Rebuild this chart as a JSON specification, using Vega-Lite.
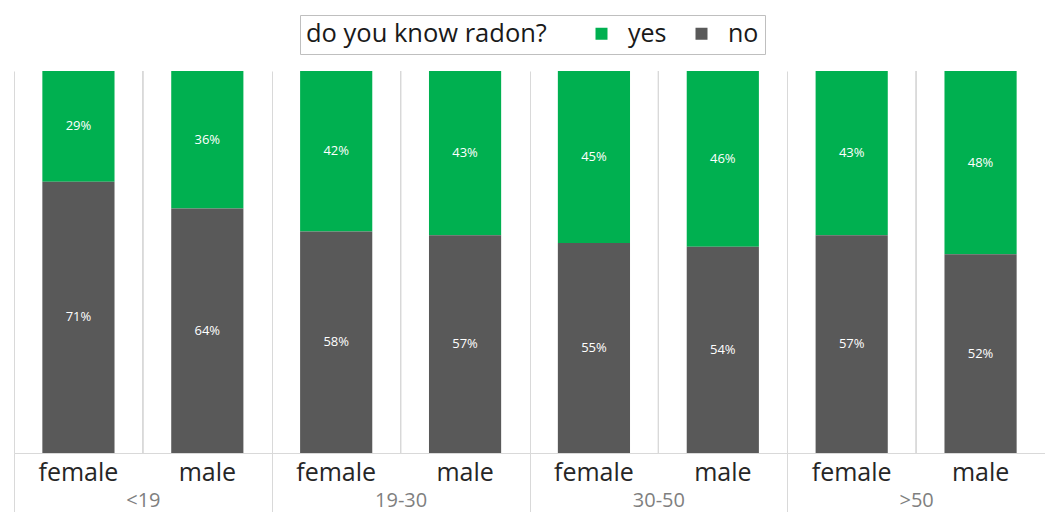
{
  "$schema": "https://vega.github.io/schema/vega-lite/v6.json",
  "width": 1031,
  "height": 382,
  "autosize": {"type": "none"},
  "padding": {"left": 14, "top": 71, "right": 0, "bottom": 59},
  "background": "white",
  "config": {
    "view": {"stroke": null},
    "font": "Open Sans"
  },
  "data": {
    "values": [
      {"group": "<19", "sex": "female", "answer": "yes", "pct": 0.29},
      {"group": "<19", "sex": "female", "answer": "no", "pct": 0.71},
      {"group": "<19", "sex": "male", "answer": "yes", "pct": 0.36},
      {"group": "<19", "sex": "male", "answer": "no", "pct": 0.64},
      {"group": "19-30", "sex": "female", "answer": "yes", "pct": 0.42},
      {"group": "19-30", "sex": "female", "answer": "no", "pct": 0.58},
      {"group": "19-30", "sex": "male", "answer": "yes", "pct": 0.43},
      {"group": "19-30", "sex": "male", "answer": "no", "pct": 0.57},
      {"group": "30-50", "sex": "female", "answer": "yes", "pct": 0.45},
      {"group": "30-50", "sex": "female", "answer": "no", "pct": 0.55},
      {"group": "30-50", "sex": "male", "answer": "yes", "pct": 0.46},
      {"group": "30-50", "sex": "male", "answer": "no", "pct": 0.54},
      {"group": ">50", "sex": "female", "answer": "yes", "pct": 0.43},
      {"group": ">50", "sex": "female", "answer": "no", "pct": 0.57},
      {"group": ">50", "sex": "male", "answer": "yes", "pct": 0.48},
      {"group": ">50", "sex": "male", "answer": "no", "pct": 0.52}
    ]
  },
  "encoding": {
    "x": {
      "field": "group",
      "type": "nominal",
      "sort": ["<19", "19-30", "30-50", ">50"],
      "scale": {"paddingInner": 0, "paddingOuter": 0},
      "axis": {
        "title": null,
        "labelAngle": 0,
        "tickBand": "extent",
        "grid": true,
        "gridColor": "#d9d9d9",
        "domainColor": "#d9d9d9",
        "tickColor": "#d9d9d9",
        "tickSize": 59,
        "labelPadding": -22,
        "labelFont": "Open Sans",
        "labelFontSize": 20,
        "labelColor": "#7f7f7f"
      }
    }
  },
  "layer": [
    {
      "mark": {"type": "rule", "color": "#d9d9d9", "strokeWidth": 1},
      "encoding": {}
    },
    {
      "mark": {"type": "bar"},
      "encoding": {
        "xOffset": {
          "field": "sex",
          "type": "nominal",
          "sort": ["female", "male"],
          "scale": {"paddingInner": 0.44, "paddingOuter": 0.22}
        },
        "y": {
          "field": "pct",
          "type": "quantitative",
          "stack": "zero",
          "scale": {"domain": [0, 1], "nice": false},
          "axis": null
        },
        "order": {"field": "answer", "sort": "ascending"},
        "color": {
          "field": "answer",
          "type": "nominal",
          "scale": {"domain": ["yes", "no"], "range": ["#00b050", "#595959"]},
          "legend": {
            "title": "do you know radon?",
            "orient": "none",
            "legendX": 286,
            "legendY": -56,
            "direction": "horizontal",
            "titleOrient": "left",
            "titleFont": "Open Sans",
            "titleFontSize": 25.5,
            "titleFontWeight": "normal",
            "titleColor": "#1a1a1a",
            "titleLimit": 600,
            "titlePadding": 42,
            "labelFont": "Open Sans",
            "labelFontSize": 25,
            "labelColor": "#1a1a1a",
            "labelOffset": 14,
            "columnPadding": 22,
            "symbolType": "square",
            "symbolSize": 144,
            "symbolStrokeWidth": 0,
            "strokeColor": "#bfbfbf",
            "fillColor": "white",
            "padding": 6
          }
        }
      }
    },
    {
      "mark": {"type": "text", "color": "white", "fontSize": 13, "font": "Open Sans", "baseline": "middle"},
      "encoding": {
        "xOffset": {"field": "sex", "type": "nominal", "sort": ["female", "male"]},
        "y": {"field": "pct", "type": "quantitative", "stack": "zero", "bandPosition": 0.5},
        "order": {"field": "answer", "sort": "ascending"},
        "detail": {"field": "answer"},
        "text": {"field": "pct", "type": "quantitative", "format": ".0%"}
      }
    },
    {
      "transform": [{"filter": "datum.answer === 'yes'"}],
      "mark": {"type": "text", "color": "#262626", "fontSize": 25, "font": "Open Sans", "baseline": "middle"},
      "encoding": {
        "xOffset": {"field": "sex", "type": "nominal", "sort": ["female", "male"]},
        "y": {"datum": -0.052, "type": "quantitative"},
        "text": {"field": "sex", "type": "nominal"}
      }
    }
  ]
}
